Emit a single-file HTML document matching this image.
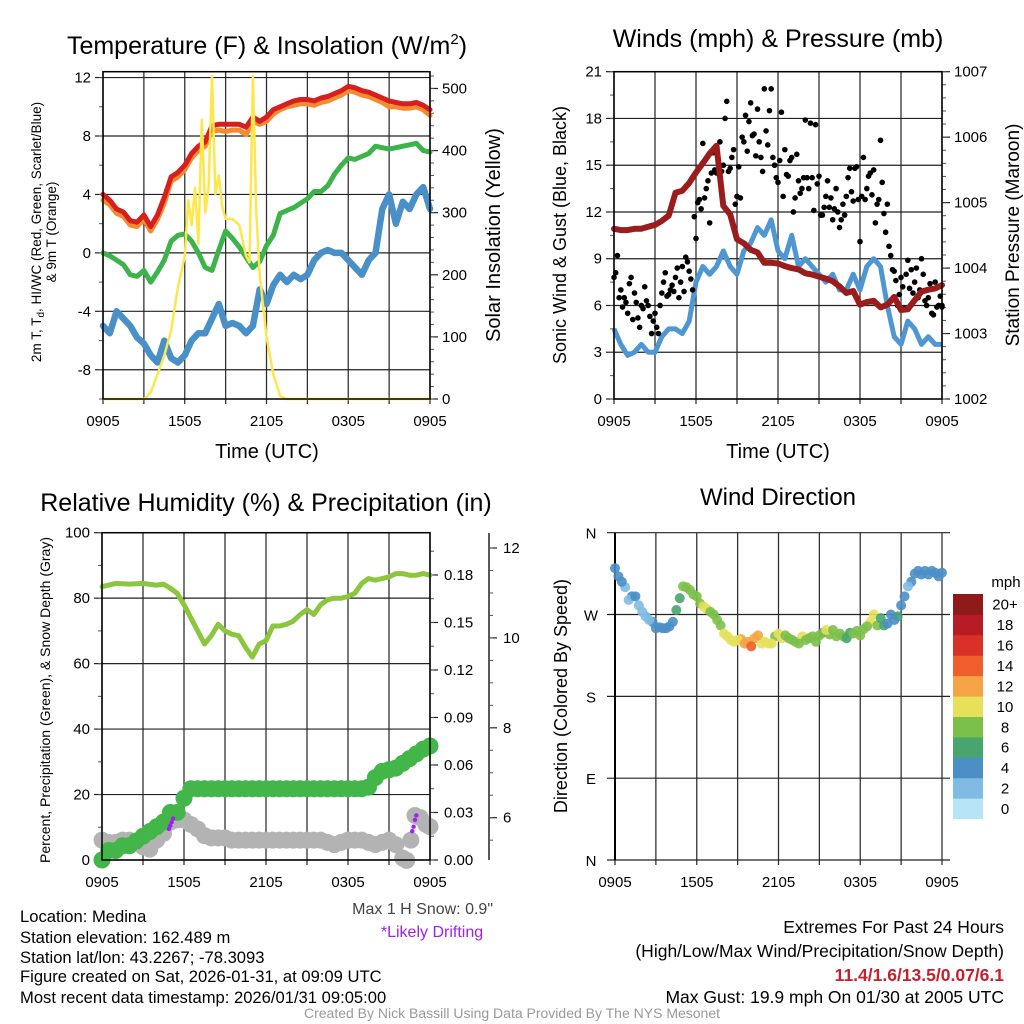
<!DOCTYPE html>
<html><head><meta charset="utf-8"><style>
html,body{margin:0;padding:0;background:#fff;}
svg{display:block;font-family:"Liberation Sans",sans-serif;}
</style></head><body>
<svg id="chart" xmlns="http://www.w3.org/2000/svg" width="1024" height="1024" viewBox="0 0 1024 1024">
<rect x="0" y="0" width="1024" height="1024" fill="#fff"/>
<text x="267" y="54" font-size="25" text-anchor="middle">Temperature (F) &amp; Insolation (W/m<tspan font-size="15" dy="-10">2</tspan><tspan dy="10">)</tspan></text>
<text x="778" y="47" font-size="25" text-anchor="middle">Winds (mph) &amp; Pressure (mb)</text>
<text x="266" y="511" font-size="25" text-anchor="middle">Relative Humidity (%) &amp; Precipitation (in)</text>
<text x="778" y="505" font-size="24" text-anchor="middle">Wind Direction</text>
<text x="267" y="458" font-size="20" text-anchor="middle">Time (UTC)</text>
<text x="778" y="458" font-size="20" text-anchor="middle">Time (UTC)</text>
<text transform="rotate(-90 41 232)" x="41" y="232" font-size="13.5" text-anchor="middle">2m T, T<tspan font-size="10" dy="3">d</tspan><tspan dy="-3">, HI/WC (Red, Green, Scarlet/Blue)</tspan></text>
<text transform="rotate(-90 56 232)" x="56" y="232" font-size="13.5" text-anchor="middle">&amp; 9m T (Orange)</text>
<text transform="rotate(-90 500 235)" x="500" y="235" font-size="20" text-anchor="middle">Solar Insolation (Yellow)</text>
<text transform="rotate(-90 566 235)" x="566" y="235" font-size="18" text-anchor="middle">Sonic Wind &amp; Gust (Blue, Black)</text>
<text transform="rotate(-90 1019 235)" x="1019" y="235" font-size="19" text-anchor="middle">Station Pressure (Maroon)</text>
<text transform="rotate(-90 50 700)" x="50" y="700" font-size="14" text-anchor="middle">Percent, Precipitation (Green), &amp; Snow Depth (Gray)</text>
<text transform="rotate(-90 567 696)" x="567" y="696" font-size="18" text-anchor="middle">Direction (Colored By Speed)</text>
<text x="1006" y="587" font-size="15" text-anchor="middle">mph</text>
<text x="493" y="914" font-size="16" fill="#444" text-anchor="end">Max 1 H Snow: 0.9"</text>
<text x="432" y="937" font-size="16" fill="#a020f0" text-anchor="middle">*Likely Drifting</text>
<g font-size="16.6">
<text x="20" y="922">Location: Medina</text>
<text x="20" y="943">Station elevation: 162.489 m</text>
<text x="20" y="963">Station lat/lon: 43.2267; -78.3093</text>
<text x="20" y="982">Figure created on Sat, 2026-01-31, at 09:09 UTC</text>
<text x="20" y="1003">Most recent data timestamp: 2026/01/31 09:05:00</text>
</g>
<g font-size="17.5" text-anchor="end">
<text x="1004" y="933">Extremes For Past 24 Hours</text>
<text x="1004" y="957">(High/Low/Max Wind/Precipitation/Snow Depth)</text>
<text x="1004" y="981" fill="#c8202a" font-weight="bold">11.4/1.6/13.5/0.07/6.1</text>
<text x="1004" y="1003">Max Gust: 19.9 mph On 01/30 at 2005 UTC</text>
</g>
<text x="512" y="1018" font-size="14" fill="#999" text-anchor="middle">Created By Nick Bassill Using Data Provided By The NYS Mesonet</text>
</svg>
<script>
// ---------- data ----------
const timeTickLabels = ["0905","1505","2105","0305","0905"];
const halfHours = [0,0.5,1,1.5,2,2.5,3,3.5,4,4.5,5,5.5,6,6.5,7,7.5,8,8.5,9,9.5,10,10.5,11,11.5,12,12.5,13,13.5,14,14.5,15,15.5,16,16.5,17,17.5,18,18.5,19,19.5,20,20.5,21,21.5,22,22.5,23,23.5,24];
const quarterOffsets = [0.25,0.75,1.25,1.75,2.25,2.75,3.25,3.75,4.25,4.75,5.25,5.75,6.25,6.75,7.25,7.75,8.25,8.75,9.25,9.75,10.25,10.75,11.25,11.75,12.25,12.75,13.25,13.75,14.25,14.75,15.25,15.75,16.25,16.75,17.25,17.75,18.25,18.75,19.25,19.75,20.25,20.75,21.25,21.75,22.25,22.75,23.25,23.75];
// Panel 1
const tempRed = [4.0,3.6,3.0,2.8,2.2,2.1,2.6,1.8,2.6,3.8,5.2,5.5,6.0,6.8,7.3,7.6,8.7,8.8,8.8,8.8,8.8,8.6,9.3,9.0,9.3,9.8,10.0,10.2,10.4,10.5,10.5,10.4,10.6,10.7,10.9,11.1,11.4,11.3,11.1,11.0,10.8,10.6,10.4,10.3,10.2,10.2,10.3,10.1,9.8];
const tempOrange = [3.6,3.3,2.7,2.5,1.9,1.8,2.3,1.5,2.3,3.4,4.9,5.2,5.7,6.5,7.0,7.3,8.3,8.4,8.3,8.4,8.4,8.1,9.0,8.8,9.0,9.5,9.8,10.0,10.1,10.2,10.2,10.1,10.3,10.4,10.6,10.8,11.1,11.0,10.8,10.7,10.5,10.3,10.0,10.0,9.9,9.9,10.0,9.8,9.4];
const dewGreen = [0.0,-0.2,-0.5,-0.8,-1.5,-1.6,-1.2,-2.0,-1.3,-0.5,0.8,1.2,1.3,0.8,0.0,-1.0,-1.2,0.2,1.5,1.0,0.4,-0.3,-1.0,-0.6,0.5,1.2,2.7,2.9,3.1,3.4,3.7,4.2,4.2,4.6,5.4,6.0,6.5,6.4,6.6,6.8,7.3,7.2,7.1,7.2,7.3,7.4,7.5,7.0,6.9];
const chillBlue = [-5.0,-5.5,-4.0,-4.5,-5.0,-5.8,-6.2,-7.0,-7.5,-6.0,-7.2,-7.5,-7.0,-6.0,-5.5,-5.5,-4.5,-3.5,-5.0,-4.8,-5.0,-5.5,-5.0,-2.5,-3.5,-2.2,-1.5,-2.0,-1.5,-1.8,-1.5,-0.5,0.0,0.2,0.0,0.0,-0.5,-1.0,-1.5,-0.5,0.0,3.0,4.0,2.0,3.5,3.0,4.0,4.5,3.0];
const solarTimes = [0,3,3.5,4,4.5,5,5.5,6,6.25,6.5,6.75,7,7.25,7.5,7.75,8,8.25,8.5,8.75,9,9.5,10,10.5,10.75,11,11.25,11.5,11.75,12,12.5,13,13.5,24];
const solarVals = [0,0,10,40,70,110,180,230,320,280,340,250,450,300,340,520,330,360,310,290,290,280,230,220,520,300,200,150,100,40,5,0,0];
// Panel 2
const windBlue = [4.5,3.5,2.8,3.0,3.5,3.0,3.0,4.0,4.5,4.5,4.2,5.0,7.5,8.5,8.0,8.5,9.5,8.5,8.0,9.5,10.0,11.0,10.5,11.5,9.5,9.0,10.5,8.5,9.0,8.5,8.0,7.5,8.0,7.0,7.0,8.0,7.0,8.5,9.0,8.5,6.0,4.0,3.5,5.0,4.5,3.5,4.0,3.5,3.5];
const pressure = [1004.6,1004.58,1004.58,1004.6,1004.6,1004.63,1004.66,1004.72,1004.8,1005.15,1005.18,1005.3,1005.46,1005.6,1005.75,1005.87,1004.95,1004.82,1004.44,1004.38,1004.28,1004.24,1004.08,1004.08,1004.07,1004.03,1004.0,1003.98,1003.92,1003.9,1003.87,1003.84,1003.8,1003.72,1003.62,1003.65,1003.44,1003.48,1003.5,1003.4,1003.44,1003.56,1003.36,1003.37,1003.51,1003.64,1003.67,1003.69,1003.74];
const gustVals = [7.8,9.2,7.0,6.5,5.5,7.8,6.8,5.2,6.0, 7.2,6.0,4.2,5.5,4.2,6.8,8.1,6.7, 7.3,7.8,6.5,8.5,9.1,8.2,7.0,10.3, 12.8,16.4,13.5,11.3,15.8,14.5,16.5,15.0, 19.1,14.8,16.0,13.0,12.9,16.5,15.9,19.0, 17.0,18.6,15.5,19.9,16.3,19.9,15.0,13.9, 18.4,16.0,14.3,15.5,12.9,14.0,13.5,17.9, 13.5,14.2,17.6,14.3,11.8,13.0,12.3,11.5, 13.5,11.0,12.5,13.0,14.8,12.7,14.9,10.1, 15.5,13.5,14.5,14.7,12.5,16.6,11.9,12.5, 9.2,8.2,6.0,7.8,5.8,8.9,8.3,7.5, 6.5,9.0,6.3,6.5,5.5,7.5,6.0,5.9];
const gustVals2 = [8.1,6.5,5.9,6.2,7.4,5.1,6.2,4.6,5.8, 6.3,5.3,5.0,4.6,6.0,7.5,6.6,7.0, 6.9,8.4,7.5,6.9,8.8,7.7,11.7,12.6, 12.2,12.9,14.0,14.5,14.7,15.3,14.6,18.0, 14.6,15.5,12.5,14.9,16.8,18.2,17.8,16.9, 15.6,16.5,14.6,17.2,18.5,15.5,14.2,15.3, 13.0,14.4,15.3,12.0,15.7,13.2,14.2,14.2, 17.7,12.1,13.8,11.8,12.3,14.0,12.9,12.2, 12.0,11.5,11.8,14.2,13.3,14.8,12.8,13.0, 12.8,14.3,13.1,11.3,12.8,13.9,10.7,9.8, 8.3,7.6,6.7,7.2,8.0,7.1,6.8,8.4, 7.0,8.0,6.0,7.4,5.4,5.9,6.6,6.0];
// Panel 3
const rhVals = [83.5,84.0,84.5,84.4,84.3,84.4,84.5,84.2,84.0,84.3,83.0,81.5,78.0,74.0,70.0,66.0,68.5,72.0,70.0,69.0,68.5,65.0,62.0,66.0,67.0,71.5,71.5,72.0,73.0,75.0,76.5,75.0,78.0,79.5,80.0,80.0,80.5,81.5,84.5,86.0,85.5,86.0,86.5,87.5,87.5,87.0,87.0,87.5,87.0];
const precipVals = [0.000,0.006,0.006,0.009,0.009,0.012,0.015,0.018,0.021,0.024,0.030,0.030,0.039,0.045,0.045,0.045,0.045,0.045,0.045,0.045,0.045,0.045,0.045,0.045,0.045,0.045,0.045,0.045,0.045,0.045,0.045,0.045,0.045,0.045,0.045,0.045,0.045,0.045,0.045,0.046,0.052,0.056,0.057,0.058,0.061,0.064,0.067,0.070,0.072];
const snowTimes = [0,0.5,1,1.5,2,2.5,3,3.5,4,4.5,5,5.5,6,6.5,7,7.5,8,8.5,9,9.5,10,10.5,11,11.5,12,12.5,13,13.5,14,14.5,15,15.5,16,16.5,17,17.5,18,18.5,19,19.5,20,20.5,21,21.5,22,22.3,22.6,22.9,23.3,23.7,24];
const snowVals = [5.5,5.45,5.45,5.5,5.5,5.45,5.35,5.3,5.5,5.65,5.9,5.95,5.95,5.85,5.75,5.6,5.55,5.55,5.55,5.5,5.5,5.5,5.5,5.5,5.5,5.5,5.5,5.5,5.5,5.5,5.5,5.5,5.5,5.45,5.4,5.45,5.5,5.5,5.5,5.45,5.4,5.45,5.5,5.4,5.1,5.05,5.5,6.05,6.0,5.85,5.8];
const driftTimes = [4.9,5.0,5.1,5.2,22.7,22.8,22.9,23.0];
const driftVals = [5.75,5.82,5.9,5.98,5.7,5.8,5.95,6.05];
// Panel 4
const dirVals = [321,306,286,290,273,264,255,255,257,275,301,297,290,279,273,264,249,242,242,238,235,247,240,238,249,247,242,238,242,246,247,253,253,249,244,249,247,257,270,266,260,264,280,301,315,314,314,316,316];
const dirSpeed = [4,4,2,4,2,2,4,4,4,6,8,8,8,10,8,8,10,10,10,12,14,12,10,10,10,8,8,8,8,8,8,10,8,8,6,8,8,8,10,6,4,4,4,2,4,4,4,4,4];
const dirVals2 = [312,300,290,280,268,262,256,255,262,288,300,292,282,276,270,258,246,240,243,240,244,238,238,246,244,244,240,246,244,240,250,248,246,246,250,252,254,262,258,258,270,268,290,306,318,318,318,312];
const dirSpeed2 = [4,2,4,2,2,4,4,4,4,6,8,8,8,10,8,8,10,10,12,12,12,10,10,8,10,8,8,10,8,8,6,8,8,8,6,8,8,10,8,6,4,6,4,4,4,4,4,4];
const speedBins = [0,2,4,6,8,10,12,14,16,18,20];
const speedBinLabels = ["0","2","4","6","8","10","12","14","16","18","20+"];
const speedColors = ["#b8e4f7","#7fbbe3","#4a8fc6","#48a56e","#7cc04a","#e6e05a","#f4a444","#ee5f2b","#d9302a","#b71c24","#8f1a1a"];

// ---------- helpers ----------
const NS='http://www.w3.org/2000/svg';
const svg=document.getElementById('chart');
function mk(tag, attrs, parent){const e=document.createElementNS(NS,tag);for(const k in attrs)e.setAttribute(k,attrs[k]);(parent||svg).appendChild(e);return e;}
function scale(d0,d1,r0,r1){return v=>r0+(v-d0)/(d1-d0)*(r1-r0);}
function pathD(xs,ys,fx,fy){return xs.map((x,i)=>(i?'L':'M')+fx(x).toFixed(1)+','+fy(ys[i]).toFixed(1)).join('');}

function panelFrame(p, name){
  const g=mk('g',{});
  
  
  for(let h=0;h<=24;h+=3){
    const x=p.fx(h);
    const l=mk('line',{x1:x,x2:x,y1:p.y0,y2:p.y1+5,stroke:'#333','stroke-width':1.3},g);
    
    
  }
  timeTickLabels.forEach((lab,i)=>{
    const t=mk('text',{x:p.fx(i*6),y:p.y1+27,'font-size':15,'text-anchor':'middle'},g);
    t.textContent=lab;
    
    
  });
  return g;
}
function hAxis(g,p,fy,majors,labels,minors,side,xpos,gridOn,labelDx){
  const dir = side==='left'?-1:1;
  majors.forEach((v,i)=>{
    const y=fy(v);
    if(gridOn){
      const gl=mk('line',{x1:p.x0,x2:p.x1,y1:y,y2:y,stroke:'#222','stroke-width':1.2},g);
      
      
    }
    const tk=mk('line',{x1:xpos,x2:xpos+dir*8,y1:y,y2:y,stroke:'#222','stroke-width':1.2},g);
    
    
    const t=mk('text',{x:xpos+dir*(labelDx||12),y:y+5,'font-size':15,'text-anchor':side==='left'?'end':'start'},g);
    t.textContent=labels[i];
    
    
  });
  minors.forEach(v=>{
    const y=fy(v);
    const tk=mk('line',{x1:xpos,x2:xpos+dir*4,y1:y,y2:y,stroke:'#555','stroke-width':1},g);
    
    
  });
}
function border(g,p){
  const r=mk('rect',{x:p.x0,y:p.y0,width:p.x1-p.x0,height:p.y1-p.y0,fill:'none',stroke:'#000','stroke-width':1.5},g);
  
  
}
function range(a,b,s){const r=[];for(let v=a;v<=b+1e-9;v+=s)r.push(+v.toFixed(4));return r;}

// ---------- Panel 1 ----------
(function(){
  const p={x0:103,x1:430,y0:71.7,y1:399};
  p.fx=scale(0,24,p.x0,p.x1);
  const fy=scale(-10,12.4,p.y1,p.y0);
  const fs=scale(0,527,p.y1,p.y0);
  const g=panelFrame(p,'temperature');
  hAxis(g,p,fy,[12,8,4,0,-4,-8],['12','8','4','0','-4','-8'],range(-10,12,2),'left',p.x0,true);
  hAxis(g,p,fs,[0,100,200,300,400,500],['0','100','200','300','400','500'],range(0,520,20),'right',p.x1,false);
  const series=[[chillBlue,'#4a90c8',6.5,'wind-chill-line'],[dewGreen,'#3cb44a',5,'dewpoint-line'],[tempOrange,'#f68a2e',5,'temp-9m-line'],[tempRed,'#d62020',5,'temp-2m-line']];
  series.forEach(s=>{
    const e=mk('path',{d:pathD(halfHours,s[0],p.fx,fy),fill:'none',stroke:s[1],'stroke-width':s[2],'stroke-linejoin':'round','stroke-linecap':'round'});
    
    
  });
  const sol=mk('path',{d:pathD(solarTimes,solarVals,p.fx,fs),fill:'none',stroke:'#fde74c','stroke-width':2.5,'stroke-linejoin':'round'});
  
  
  const gb=mk('g',{});
  
  
  border(gb,p);
})();

// ---------- Panel 2 ----------
(function(){
  const p={x0:614,x1:942,y0:71.7,y1:399};
  p.fx=scale(0,24,p.x0,p.x1);
  const fy=scale(0,21,p.y1,p.y0);
  const fp=scale(1002,1007,p.y1,p.y0);
  const g=panelFrame(p,'wind');
  hAxis(g,p,fy,[0,3,6,9,12,15,18,21],['0','3','6','9','12','15','18','21'],range(0,21,1.5),'left',p.x0,true);
  hAxis(g,p,fp,[1002,1003,1004,1005,1006,1007],['1002','1003','1004','1005','1006','1007'],range(1002,1007,0.2),'right',p.x1,false);
  const w=mk('path',{d:pathD(halfHours,windBlue,p.fx,fy),fill:'none',stroke:'#4f97d3','stroke-width':5,'stroke-linejoin':'round'});
  
  
  const gg=mk('g',{});
  
  
  [gustVals,gustVals2].forEach((arr,k)=>{
    arr.forEach((v,i)=>{
      const t=i*0.25+(k?0.125:0);
      const c=mk('circle',{cx:p.fx(Math.min(t,24)),cy:fy(v),r:2.8,fill:'#000'},gg);
      
      
    });
  });
  const pr=mk('path',{d:pathD(halfHours,pressure,p.fx,fp),fill:'none',stroke:'#9b1c1c','stroke-width':6,'stroke-linejoin':'round','stroke-linecap':'round'});
  
  
  const gb=mk('g',{});
  
  
  border(gb,p);
})();

// ---------- Panel 3 ----------
(function(){
  const p={x0:102,x1:430,y0:532.7,y1:860};
  p.fx=scale(0,24,p.x0,p.x1);
  const fy=scale(0,100,p.y1,p.y0);
  const fpr=scale(0,0.2067,p.y1,p.y0);
  const fsn=scale(6,12,817.7,548);
  const g=panelFrame(p,'humidity');
  hAxis(g,p,fy,[0,20,40,60,80,100],['0','20','40','60','80','100'],range(0,100,10),'left',p.x0,true);
  hAxis(g,p,fpr,[0,0.03,0.06,0.09,0.12,0.15,0.18],['0.00','0.03','0.06','0.09','0.12','0.15','0.18'],range(0,0.2,0.015),'right',p.x1,false,14);
  const ax2=mk('line',{x1:489,x2:489,y1:533,y2:860,stroke:'#222','stroke-width':1.5},g);
  
  
  hAxis(g,p,fsn,[6,8,10,12],['6','8','10','12'],range(5.5,12,0.5),'right',489,false,14);
  const gs=mk('g',{});
  
  
  snowTimes.forEach((t,i)=>{
    const c=mk('circle',{cx:p.fx(t),cy:fsn(snowVals[i]),r:8.5,fill:'#b3b3b3'},gs);
    
    
  });
  const gp=mk('g',{});
  
  
  halfHours.forEach((t,i)=>{
    const c=mk('circle',{cx:p.fx(t),cy:fpr(precipVals[i]),r:8.5,fill:'#43b649'},gp);
    
    
  });
  const rh=mk('path',{d:pathD(halfHours,rhVals,p.fx,fy),fill:'none',stroke:'#8cc63f','stroke-width':5,'stroke-linejoin':'round','stroke-linecap':'round'});
  
  
  const gd=mk('g',{});
  
  
  driftTimes.forEach((t,i)=>{
    const c=mk('circle',{cx:p.fx(t),cy:fsn(driftVals[i]),r:2.2,fill:'#a020f0'},gd);
    
    
  });
  const gb=mk('g',{});
  
  
  border(gb,p);
})();

// ---------- Panel 4 ----------
(function(){
  const p={x0:615,x1:942,y0:532.7,y1:860};
  p.fx=scale(0,24,p.x0,p.x1);
  const fy=scale(0,360,p.y1,p.y0);
  const g=panelFrame(p,'direction');
  const dirTicks=[0,90,180,270,360];
  const dirLabels=['N','E','S','W','N'];
  dirTicks.forEach((v,i)=>{
    const y=fy(v);
    const l=mk('line',{x1:p.x0-8,x2:950,y1:y,y2:y,stroke:'#222','stroke-width':1.2},g);
    
    
    const t=mk('text',{x:591,y:y+6,'font-size':15,'text-anchor':'middle'},g);
    t.textContent=dirLabels[i];
    
    
  });
  const lx=mk('line',{x1:p.x0,x2:p.x0,y1:p.y0,y2:p.y1,stroke:'#000','stroke-width':2},g);
  
  
  function colorFor(s){let k=0;speedBins.forEach((b,i)=>{if(s>=b)k=i;});return speedColors[k];}
  const gd=mk('g',{});
  
  
  quarterOffsets.forEach((t,i)=>{
    const c=mk('circle',{cx:p.fx(t),cy:fy(dirVals2[i]),r:5,fill:colorFor(dirSpeed2[i]),'fill-opacity':0.9},gd);
    
    
  });
  halfHours.forEach((t,i)=>{
    const c=mk('circle',{cx:p.fx(t),cy:fy(dirVals[i]),r:5,fill:colorFor(dirSpeed[i]),'fill-opacity':0.9},gd);
    
    
  });
  const cb=mk('g',{});
  
  
  const top=594, h=20.43;
  speedColors.forEach((col,i)=>{
    const y=top+(speedColors.length-1-i)*h;
    const r=mk('rect',{x:953,y:y,width:30,height:h+0.4,fill:col},cb);
    
    
    const t=mk('text',{x:1005,y:y+h/2+5.5,'font-size':15,'text-anchor':'middle'},cb);
    t.textContent=speedBinLabels[i];
    
    
  });
})();
</script>
</body></html>
